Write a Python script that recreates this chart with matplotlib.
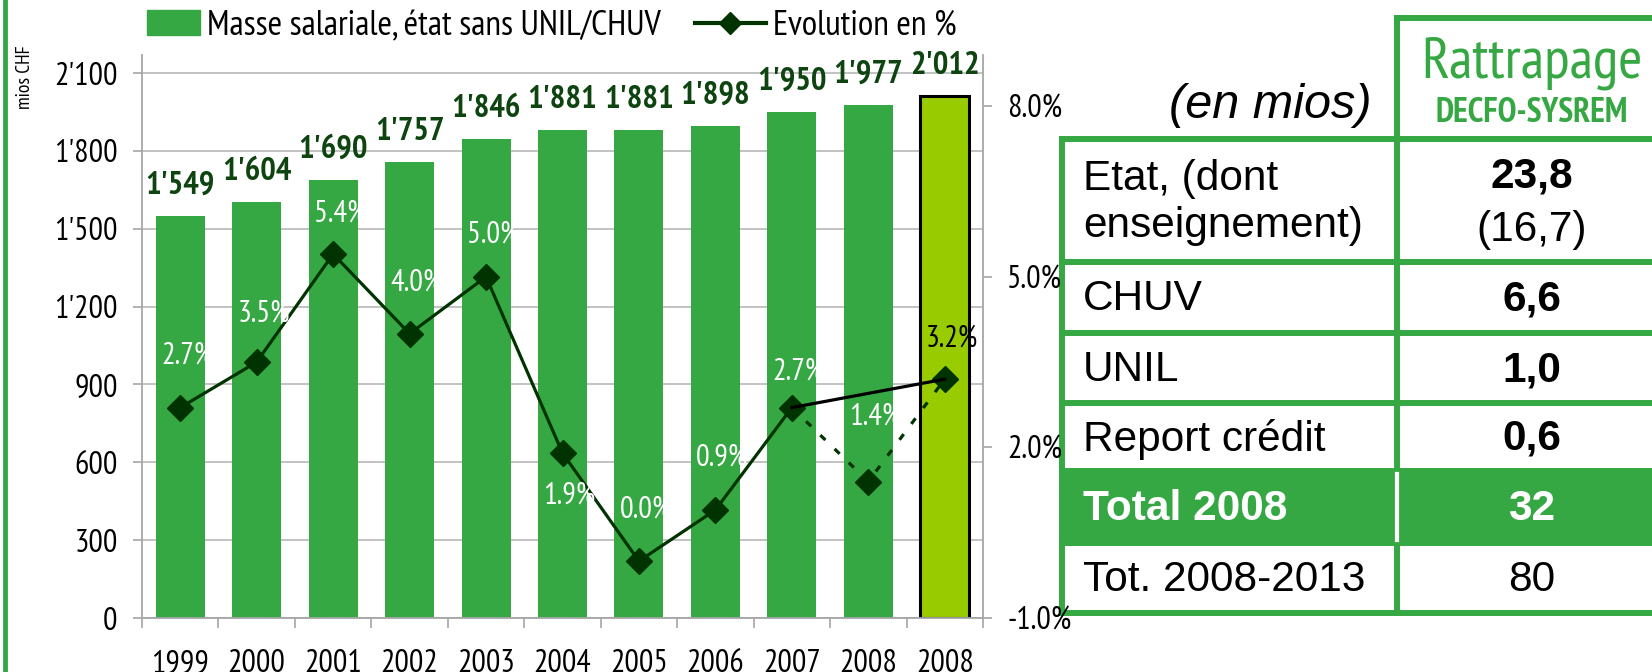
import matplotlib
matplotlib.use("Agg")
import matplotlib.pyplot as plt
from matplotlib.lines import Line2D
from matplotlib.patches import Patch, Rectangle
from matplotlib.ticker import FuncFormatter

plt.rcParams['font.family'] = ['PT Sans Narrow', 'Archivo Narrow', 'DejaVu Sans']

# data
years = ["1999", "2000", "2001", "2002", "2003", "2004", "2005", "2006", "2007", "2008", "2008"]
masse = [1549, 1604, 1690, 1757, 1846, 1881, 1881, 1898, 1950, 1977, 2012]
evolution = [2.7, 3.5, 5.4, 4.0, 5.0, 1.9, 0.0, 0.9, 2.7, 1.4, 3.2]

table_rows = ["Etat, (dont\nenseignement)", "CHUV", "UNIL", "Report crédit", "Total 2008", "Tot. 2008-2013"]
table_values = ["23,8", "6,6", "1,0", "0,6", "32", "80"]
etat_dont = "(16,7)"

GREEN = "#36a843"
LIME = "#99cc00"
DARK = "#003300"
LABEL = "#0e4410"
GRAY = "#a6a6a6"
ARIAL = "Liberation Sans"

W, H = 1652, 672
fig = plt.figure(figsize=(W / 100, H / 100), dpi=100)

# table layer (pixel coordinates), drawn first so the chart sits on top
tab = fig.add_axes([0, 0, 1, 1])
tab.set_xlim(0, W)
tab.set_ylim(H, 0)
tab.axis("off")

tab.plot([5, 5], [0, H], color=GREEN, lw=3.5)

x_left, x_mid, x_right = 1062, 1397, 1660
row_y = [139, 262, 333, 403, 471, 543, 613]
lw_t = 4.3
tab.add_patch(Rectangle((x_left, row_y[4]), x_right - x_left, row_y[5] - row_y[4], color=GREEN, lw=0))
for y in row_y:
    tab.plot([x_left, x_right], [y, y], color=GREEN, lw=lw_t, solid_capstyle="projecting")
tab.plot([x_mid, x_right], [18, 18], color=GREEN, lw=lw_t, solid_capstyle="projecting")
tab.plot([x_left, x_left], [row_y[0], row_y[-1]], color=GREEN, lw=lw_t, solid_capstyle="projecting")
tab.plot([x_mid, x_mid], [18, row_y[-1]], color=GREEN, lw=lw_t, solid_capstyle="projecting")
tab.plot([x_mid, x_mid], [row_y[4] + 3, row_y[5] - 3], color="white", lw=3)

tab.text(1372, 105, "(en mios)", ha="right", va="center", fontsize=35, style="italic", family=ARIAL)
tab.text(1532, 63, "Rattrapage", ha="center", va="center", fontsize=42, color=GREEN)
tab.text(1532, 113, "DECFO-SYSREM", ha="center", va="center", fontsize=24.5, color=GREEN,
         fontweight="bold")

x_txt, x_val = 1083, 1532
for i, (lab, val) in enumerate(zip(table_rows, table_values)):
    yc = (row_y[i] + row_y[i + 1]) / 2 + 2
    total = lab.startswith("Total")
    col = "white" if total else "black"
    weight = "bold" if (total or i < 4) else "normal"
    if i == 0:
        tab.text(x_txt, yc, lab, ha="left", va="center", fontsize=30.5, family=ARIAL, linespacing=1.2)
        tab.text(x_val, yc - 26, val, ha="center", va="center", fontsize=30.5, fontweight="bold",
                 family=ARIAL)
        tab.text(x_val, yc + 27, etat_dont, ha="center", va="center", fontsize=30.5, family=ARIAL)
    else:
        tab.text(x_txt, yc, lab, ha="left", va="center", fontsize=30.5, color=col,
                 fontweight="bold" if total else "normal", family=ARIAL)
        tab.text(x_val, yc, val, ha="center", va="center", fontsize=30.5, color=col,
                 fontweight=weight, family=ARIAL)

# chart
ax = fig.add_axes([142 / W, 1 - 618 / H, (983 - 142) / W, (618 - 55) / H])
ax.patch.set_alpha(0)
x = list(range(len(years)))
colors = [GREEN] * (len(years) - 1) + [LIME]
edges = [GREEN] * (len(years) - 1) + ["black"]
lws = [0] * (len(years) - 1) + [2.2]
ax.bar(x, masse, width=0.64, color=colors, edgecolor=edges, linewidth=lws, zorder=2)
for xi, v in zip(x, masse):
    ax.annotate(f"{v:,}".replace(",", "'"), (xi, v), xytext=(0, 30), textcoords="offset pixels",
                ha="center", va="center", fontsize=23.5, fontweight="bold", color=LABEL)

ax.set_xlim(-0.5, len(years) - 0.5)
ax.set_ylim(0, 2170)
ax.set_yticks(range(0, 2101, 300))
ax.yaxis.set_major_formatter(FuncFormatter(lambda v, p: f"{int(v):,}".replace(",", "'")))
ax.yaxis.grid(True, color="#b8b8b8", lw=1.2)
ax.set_axisbelow(True)
ax.set_xticks(x)
ax.set_xticklabels(years)
ax.set_xticks([i - 0.5 for i in range(len(years) + 1)], minor=True)
ax.tick_params(axis="x", which="major", length=0, pad=22, labelsize=23)
ax.tick_params(axis="x", which="minor", length=7, width=1.2, color=GRAY)
ax.tick_params(axis="y", length=6.5, width=1.2, color=GRAY, pad=11, labelsize=23)
for s in ["top", "right"]:
    ax.spines[s].set_visible(False)
for s in ["left", "bottom"]:
    ax.spines[s].set_color(GRAY)
    ax.spines[s].set_linewidth(1.3)

ax2 = ax.twinx()
ax2.set_ylim(-1, 8.9)
ax2.set_yticks([-1, 2, 5, 8])
ax2.yaxis.set_major_formatter(FuncFormatter(lambda v, p: f"{v:.1f}%"))
ax2.tick_params(axis="y", length=6.5, width=1.2, color=GRAY, pad=11, labelsize=23)
for s in ["top", "left", "bottom"]:
    ax2.spines[s].set_visible(False)
ax2.spines["right"].set_color(GRAY)
ax2.spines["right"].set_linewidth(1.3)

n = len(years)
ax2.plot(x[:n - 2], evolution[:n - 2], color=DARK, lw=2.3, marker="D", ms=13, zorder=3)
ax2.plot(x[n - 3:], evolution[n - 3:], color=DARK, lw=2.3, ls=(0, (2.2, 4)), marker="D",
         ms=13, markevery=[1, 2], zorder=3)
ax2.plot([x[n - 3], x[n - 1]], [evolution[n - 3], evolution[n - 1]], color="black", lw=2.3, zorder=4)

label_dy = [52, 48, 40, 51, 42, -43, 52, 52, 36, 65, 41]
for i, v in enumerate(evolution):
    ax2.annotate(f"{v:.1f}%", (x[i], v), xytext=(7, label_dy[i]), textcoords="offset pixels",
                 ha="center", va="center", fontsize=22,
                 color="black" if i == n - 1 else "white", zorder=5)

fig.text(25 / W, 1 - 77 / H, "mios CHF", rotation=90, ha="center", va="center", fontsize=14)

h1 = Patch(color=GREEN)
h2 = Line2D([], [], color=DARK, lw=3, marker="D", ms=11)
fig.legend([h1], ["Masse salariale, état sans UNIL/CHUV"], loc="center left",
           bbox_to_anchor=(147 / W, 1 - 26 / H), frameon=False, fontsize=25.5,
           handlelength=1.5, handletextpad=0.2, borderaxespad=0, borderpad=0)
fig.legend([h2], ["Evolution en %"], loc="center left",
           bbox_to_anchor=(695 / W, 1 - 26 / H), frameon=False, fontsize=25.5,
           handlelength=2.0, handletextpad=0.2, borderaxespad=0, borderpad=0)

fig.savefig("out.png", dpi=100)
